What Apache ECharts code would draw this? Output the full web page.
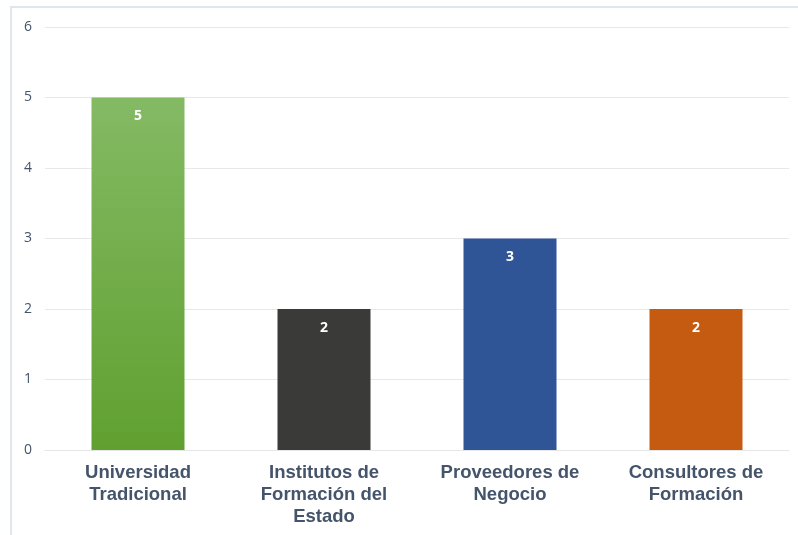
<!DOCTYPE html>
<html>
<head>
<meta charset="utf-8">
<script src="https://cdn.jsdelivr.net/npm/echarts@6/dist/echarts.min.js"></script>
<style>
  html, body { margin: 0; padding: 0; background: #fff; }
  #chart { width: 798px; height: 535px; }
</style>
</head>
<body>
<div id="chart"></div>
<script>
const categories = ['Universidad\nTradicional', 'Institutos de\nFormación del\nEstado', 'Proveedores de\nNegocio', 'Consultores de\nFormación'];
const values = [5, 2, 3, 2];
const yTicks = [0, 1, 2, 3, 4, 5, 6];

const barColors = [
  new echarts.graphic.LinearGradient(0, 0, 0, 1, [
    { offset: 0, color: '#84ba64' },
    { offset: 1, color: '#60a030' }
  ]),
  '#3a3a38',
  '#2f5597',
  '#c55a11'
];

const chart = echarts.init(document.getElementById('chart'));
chart.setOption({
  animation: false,
  graphic: [{
    type: 'rect',
    shape: { x: 11, y: 7, width: 800, height: 540 },
    style: { fill: 'none', stroke: '#e1e5ec', lineWidth: 2 },
    silent: true
  }],
  grid: { left: 45, right: 9, top: 27, bottom: 85 },
  xAxis: {
    type: 'category',
    data: categories,
    axisLine: { lineStyle: { color: '#e6e6e6', width: 1 } },
    axisTick: { show: false },
    axisLabel: {
      interval: 0,
      color: '#44546a',
      fontFamily: 'Liberation Sans, Arial, sans-serif',
      fontWeight: 'bold',
      fontSize: 18.5,
      lineHeight: 22,
      margin: 12
    }
  },
  yAxis: {
    type: 'value',
    min: yTicks[0],
    max: yTicks[yTicks.length - 1],
    interval: 1,
    axisLine: { show: false },
    axisTick: { show: false },
    splitLine: { lineStyle: { color: '#e8e8e8' } },
    axisLabel: {
      color: '#44546a',
      fontFamily: 'Open Sans, sans-serif',
      fontSize: 14,
      margin: 13
    }
  },
  series: [{
    type: 'bar',
    barWidth: '50%',
    data: values.map((v, i) => ({ value: v, itemStyle: { color: barColors[i] } })),
    label: {
      show: true,
      position: 'insideTop',
      distance: 12,
      color: '#ffffff',
      fontWeight: 'bold',
      fontSize: 14,
      fontFamily: 'Open Sans, sans-serif'
    }
  }]
});
</script>
</body>
</html>
